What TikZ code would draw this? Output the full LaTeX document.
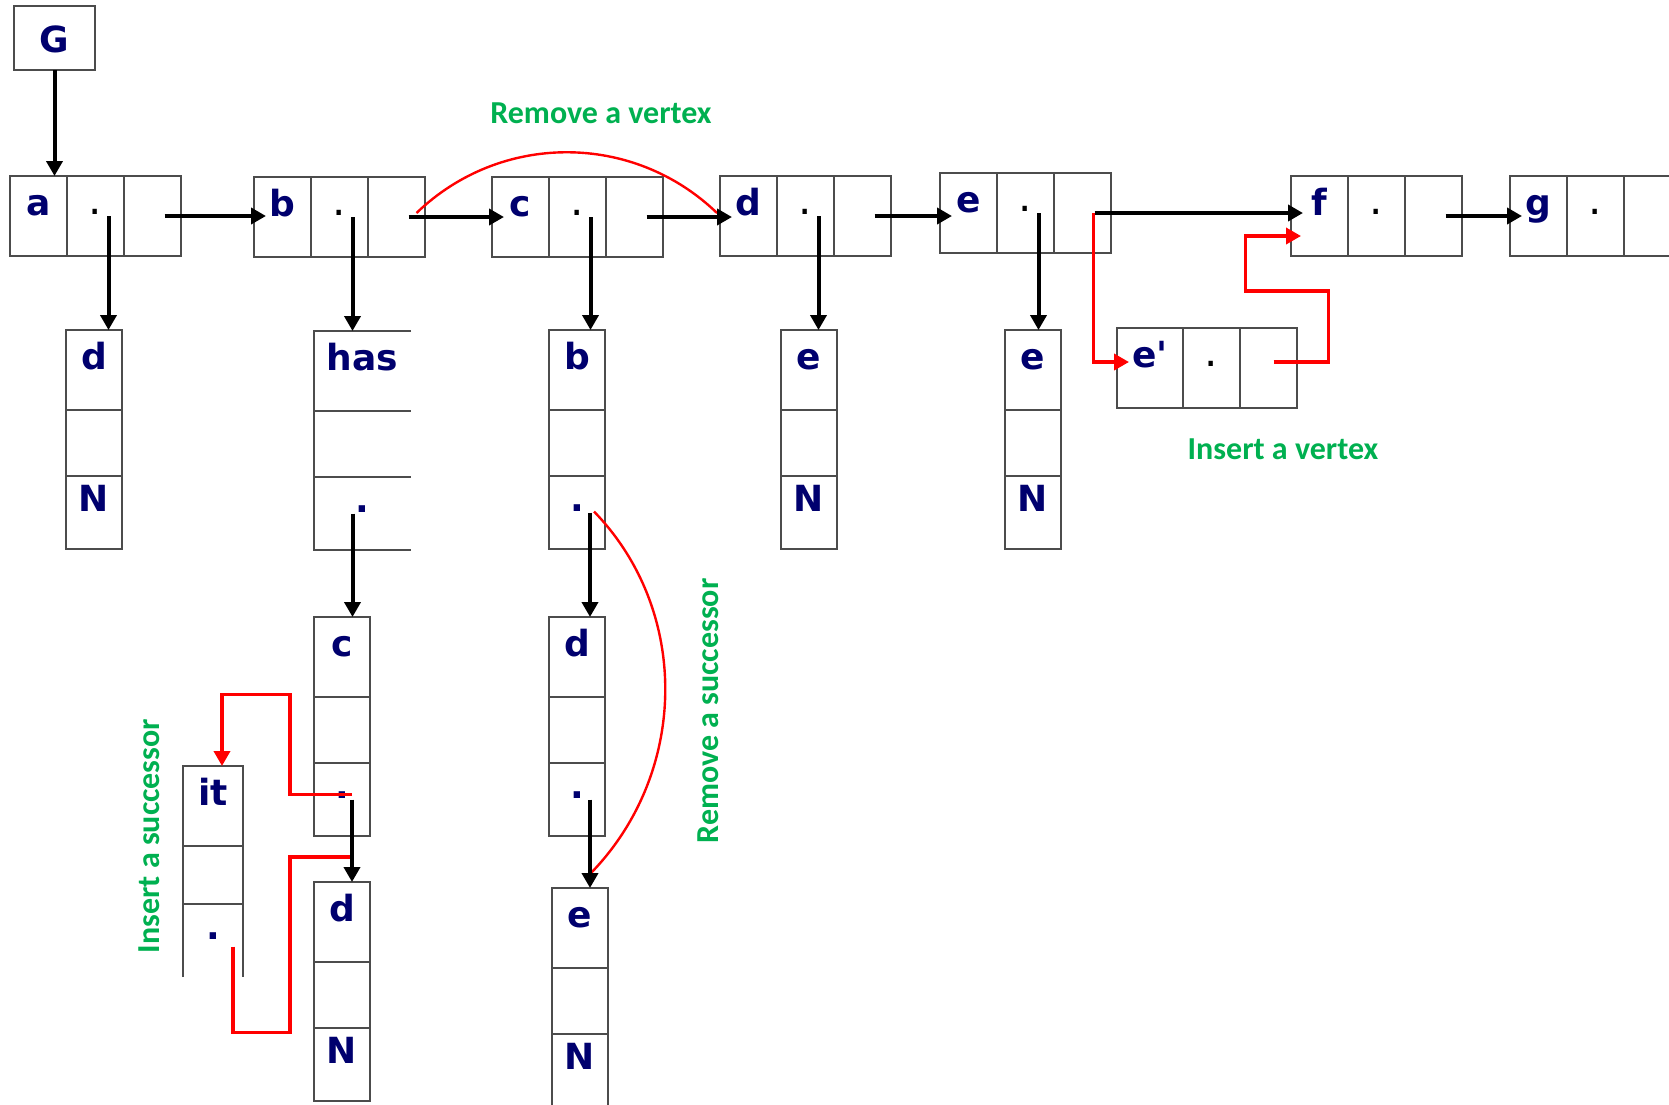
\documentclass[tikz,border=0pt]{standalone}
\usepackage{fontspec}
\setmainfont{DejaVu Sans}
\newfontfamily\notefont{Carlito}
\usetikzlibrary{arrows.meta, positioning}
\definecolor{navy}{RGB}{0,0,110}
\definecolor{notegreen}{RGB}{0,176,80}

\begin{document}
\begin{tikzpicture}[
  x=1pt, y=-1pt,
  frame/.style={draw=black!70, line width=1.4pt},
  cell/.style={frame, outer sep=0pt, inner sep=0pt, minimum width=57pt, minimum height=80pt, text height=32pt, text depth=34pt, text=navy, font=\fontsize{36}{36}\selectfont\bfseries},
  midcell/.style={cell, minimum height=66pt, text height=0pt, text depth=0pt},
  lowcell/.style={cell, minimum height=73pt, text height=28pt, text depth=31pt},
  rowdot/.style={cell, text=black, text height=31pt, text depth=35pt, font=\fontsize{42}{42}\selectfont},
  open/.style={draw=none},
  link/.style={-{Triangle[length=15pt, width=16pt]}, line width=4pt},
  ins/.style={link, red, line width=3.6pt},
  cut/.style={red, line width=2.4pt},
  note/.style={text=notegreen, font=\notefont\fontsize{32}{32}\selectfont\bfseries}
]
  \useasboundingbox (0,0) rectangle (1669,1104);

  % list of vertices
  \node[cell, minimum width=81pt, minimum height=64pt, text height=28pt, text depth=0pt] (G) at (54.5,38) {G};
  \foreach \n/\x/\y in {a/10/176, b/254/177, c/492/177, d/720/176, e/940/173, f/1291/176, g/1510/176}{
    \node[cell, anchor=north west] (\n1) at (\x,\y) {\n};
    \node[rowdot, right=0pt of \n1] (\n2) {.};
    \node[cell, right=0pt of \n2] (\n3) {};
  }
  \node[cell, anchor=north west, minimum width=66pt] (ep1) at (1117,328) {e\textquotesingle};
  \node[rowdot, right=0pt of ep1] (ep2) {.};
  \node[cell, right=0pt of ep2] (ep3) {};

  % lists of successors
  \foreach \n/\x/\y/\t/\b in {da/66/330/d/N, cb/549/330/b/., de/781/330/e/N, ee/1005/330/e/N, hc/314/617/c/., hd/314/882/d/N, cd/549/617/d/., ce/552/888/e/N}{
    \node[cell, anchor=north west, minimum width=56pt] (\n1) at (\x,\y) {\t};
    \node[midcell, minimum width=56pt, below=0pt of \n1] (\n2) {};
    \node[lowcell, minimum width=56pt, below=0pt of \n2] (\n3) {\b};
  }
  \node[cell, open, anchor=north west, minimum width=97pt] (hs1) at (314,331) {has};
  \node[midcell, open, minimum width=97pt, below=0pt of hs1] (hs2) {};
  \node[lowcell, open, minimum width=97pt, below=0pt of hs2] (hs3) {.};
  \draw[frame] (hs1.north east) -- (hs1.north west) -- (hs3.south west) -- (hs3.south east)
    (hs1.south west) -- (hs1.south east) (hs2.south west) -- (hs2.south east);
  \node[cell, open, anchor=north west, minimum width=60pt] (it1) at (183,766) {it};
  \node[midcell, open, minimum width=60pt, minimum height=58pt, below=0pt of it1] (it2) {};
  \node[lowcell, open, minimum width=60pt, below=0pt of it2] (it3) {.};
  \draw[frame] (it3.south west) -- (it1.north west) -- (it1.north east) -- (it3.south east)
    (it1.south west) -- (it1.south east) (it2.south west) -- (it2.south east);

  % changes
  \draw[cut] ([xshift=20,yshift=4]b3.center) .. controls +(84,-81) and +(-84,-81) .. ([xshift=-3,yshift=3]d1.west);
  \draw[cut] ([xshift=17,yshift=1]cb3.center) .. controls +(97,100) and +(97,-100) .. ([xshift=11,yshift=15]ce1.north);
  \draw[ins] ([xshift=10,yshift=5]hc3.center) -- ++(-62,0) -- ++(0,-100) -| ([xshift=9]it1.north);
  \draw[ins, -] ([xshift=20,yshift=-6]it3.center) -- ++(0,86) -- ++(57,0) |- ([xshift=10,yshift=25]hd1.north);
  \draw[ins] ([xshift=11]e3.center) |- ([xshift=12,yshift=6]ep1.west);
  \draw[ins] ([xshift=5,yshift=6]ep3.center) -- ++(55,0) -- ++(0,-71) -- ++(-83,0) |- ([xshift=10,yshift=-20]f1.west);

  % pointers
  \draw[link] (G.south) -- (G.south |- a1.north);
  \foreach \p/\q in {a/b, b/c, c/d, d/e, e/f, f/g}
    \draw[link] ([xshift=12]\p3.center) -- ([xshift=12]\q1.west |- \p3.center);
  \foreach \p/\q in {a/da, b/hs, c/cb, d/de, e/ee}
    \draw[link] ([xshift=13]\p2.center) -- ([xshift=13]\p2.center |- \q1.north);
  \draw[link] ([xshift=-10]hs3.center) -- ([xshift=-10]hs3.center |- hc1.north);
  \draw[link] ([xshift=10]hc3.center) -- ([xshift=10]hc3.center |- hd1.north);
  \draw[link] ([xshift=13]cb3.center) -- ([xshift=13]cb3.center |- cd1.north);
  \draw[link] ([xshift=13]cd3.center) -- ([xshift=13]cd3.center |- ce1.north);

  % labels
  \node[note] (rv) at (601,113) {Remove a vertex};
  \node[note] (iv) at (1283,449) {Insert a vertex};
  \node[note, rotate=90] (rs) at (708,711) {Remove a successor};
  \node[note, rotate=90] (is) at (149,836) {Insert a successor};
\end{tikzpicture}
\end{document}
